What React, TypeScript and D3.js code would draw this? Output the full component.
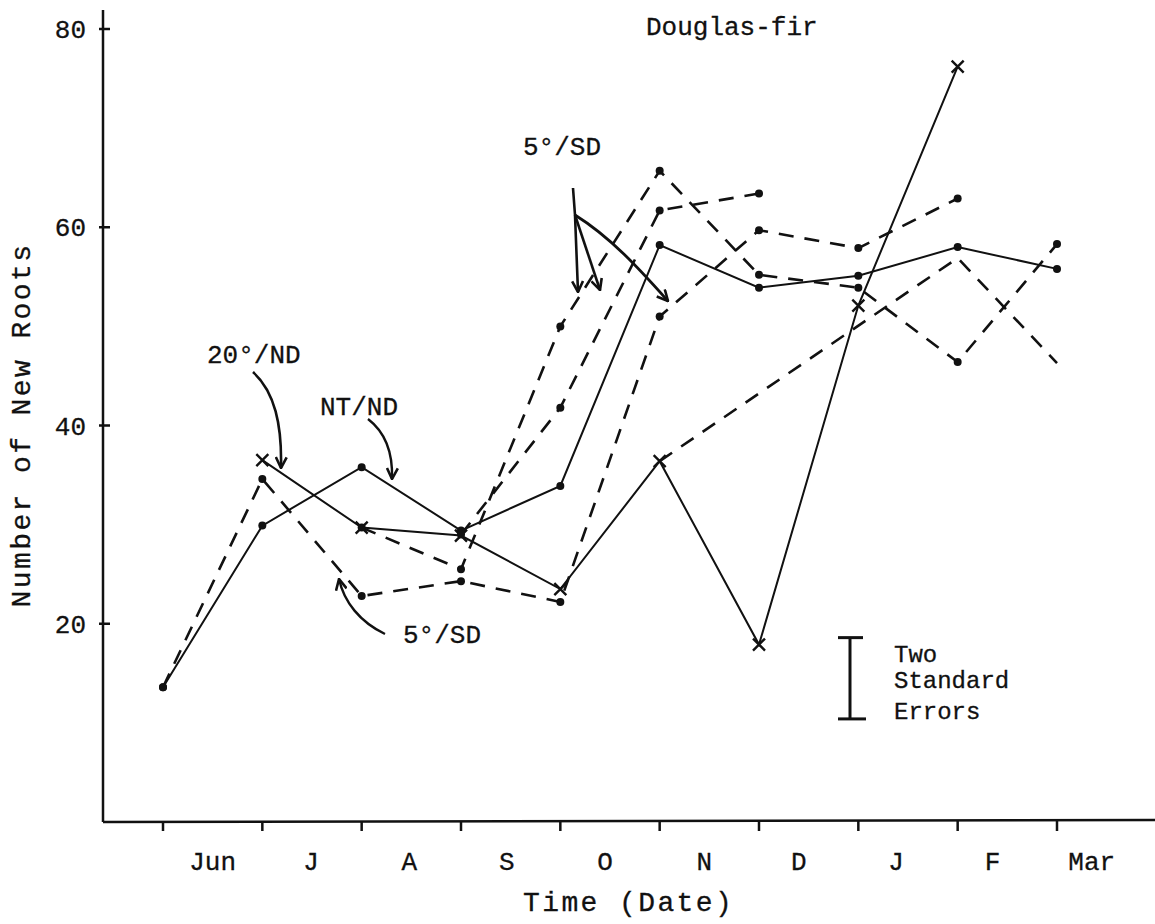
import React from "react";
import * as d3 from "d3";

const months = ["Jun", "J", "A", "S", "O", "N", "D", "J", "F", "Mar"];
// position of each month label along the sampling-date axis (index units)
const monthPos = [0.5, 1.49, 2.48, 3.46, 4.45, 5.45, 6.4, 7.38, 8.35, 9.35];
const yTicks = [20, 40, 60, 80];

// sampling dates are at month boundaries (index 0..9)
const ntND = [13.6, 29.9, 35.8, 29.4, 33.9, 58.2, 53.9, 55.1, 58.0, 55.8];
const t20ND = [null, 36.5, 29.7, 28.9, 23.5, 36.4, 17.9, 52.1, 76.2, null];
const sdA = [13.6, 34.6, 22.8, 24.3, 22.2, 51.0, 59.7, 57.9, 62.9, null];
const sdB = [null, null, 29.7, 25.5, 50.0, 65.7, 55.2, 53.9, 46.4, 58.3];
const sdC = [null, null, null, 29.0, 41.8, 61.7, 63.4, null, null, null];
const sdX = [null, null, null, null, null, 36.4, null, null, 56.9, 46.3];

const errTop = 18.6;
const errBottom = 10.4;

const FONT = "'Liberation Mono', 'Courier New', monospace";

type S = { values: (number | null)[]; dashed: boolean; marker: "dot" | "x" | "none" };
const series: S[] = [
  { values: ntND, dashed: false, marker: "dot" },
  { values: t20ND, dashed: false, marker: "x" },
  { values: sdA, dashed: true, marker: "dot" },
  { values: sdB, dashed: true, marker: "dot" },
  { values: sdC, dashed: true, marker: "dot" },
  { values: sdX, dashed: true, marker: "none" },
];

export default function App() {
  const W = 1155, H = 924;
  const x = d3.scaleLinear().domain([0, 9]).range([163, 1057]);
  const y = d3.scaleLinear().domain([0, 80]).range([822, 29]);
  const line = d3
    .line<[number, number]>()
    .x((d) => x(d[0]))
    .y((d) => y(d[1]));

  const txt = { fontFamily: FONT, fontSize: 26, fill: "#111", stroke: "#111", strokeWidth: 0.3 } as const;
  const title = { ...txt, fontSize: 28, letterSpacing: 2.4 } as const;

  return (
    <svg width={W} height={H} style={{ position: "absolute", left: 0, top: 0, background: "#fff" }}>
      <defs>
        <marker id="ah" viewBox="0 0 12 12" refX="11" refY="6" markerWidth="13" markerHeight="13" markerUnits="userSpaceOnUse" orient="auto">
          <path d="M1,1 L11,6 L1,11" fill="none" stroke="#111" strokeWidth="2.4" />
        </marker>
      </defs>
      <rect x={0} y={0} width={W} height={H} fill="#fff" />

      {/* axes */}
      <line x1={103} y1={10} x2={103} y2={822} stroke="#111" strokeWidth={2.5} />
      <line x1={103} y1={822} x2={1155} y2={820} stroke="#111" strokeWidth={2.5} />
      {yTicks.map((t) => (
        <g key={"yt" + t}>
          <line x1={99} x2={110} y1={y(t)} y2={y(t)} stroke="#111" strokeWidth={2.5} />
          <text x={86} y={y(t) + 9} textAnchor="end" {...txt}>
            {t}
          </text>
        </g>
      ))}
      {months.map((m, i) => (
        <g key={"xt" + i}>
          <line x1={x(i)} x2={x(i)} y1={821} y2={831} stroke="#111" strokeWidth={2.5} />
          <text x={x(monthPos[i])} y={870} textAnchor="middle" {...txt}>
            {m}
          </text>
        </g>
      ))}

      <text x={523} y={911} {...title}>Time (Date)</text>
      <text transform={`translate(30,425) rotate(-90)`} textAnchor="middle" {...title}>
        Number of New Roots
      </text>
      <text x={646} y={35} {...txt}>Douglas-fir</text>

      {/* series */}
      {series.map((s, si) => {
        const pts = s.values
          .map((v, i) => (v == null ? null : ([i, v] as [number, number])))
          .filter((p): p is [number, number] => p != null);
        return (
          <g key={"s" + si}>
            <path
              d={line(pts) || ""}
              fill="none"
              stroke="#111"
              strokeWidth={s.dashed ? 2.6 : 2}
              strokeDasharray={s.dashed ? "15 11" : undefined}
            />
            {pts.map((p, k) =>
              s.marker === "dot" ? (
                <circle key={k} cx={x(p[0])} cy={y(p[1])} r={4} fill="#111" />
              ) : s.marker === "x" ? (
                <path
                  key={k}
                  d={`M${x(p[0]) - 6},${y(p[1]) - 6}L${x(p[0]) + 6},${y(p[1]) + 6}M${x(p[0]) - 6},${y(p[1]) + 6}L${x(p[0]) + 6},${y(p[1]) - 6}`}
                  stroke="#111"
                  strokeWidth={2.4}
                />
              ) : null
            )}
          </g>
        );
      })}

      {/* annotations */}
      <text x={207} y={363} {...txt}>20°/ND</text>
      <path d="M253,372 C275,392 282,425 281,468" fill="none" stroke="#111" strokeWidth={2.6} markerEnd="url(#ah)" />
      <text x={320} y={415} {...txt}>NT/ND</text>
      <path d="M368,419 C385,432 393,452 392,479" fill="none" stroke="#111" strokeWidth={2.4} markerEnd="url(#ah)" />
      <text x={403} y={643} {...txt}>5°/SD</text>
      <path d="M385,634 C360,622 344,602 339,579" fill="none" stroke="#111" strokeWidth={2.4} markerEnd="url(#ah)" />
      <text x={523} y={155} {...txt}>5°/SD</text>
      <path d="M573,188 L575,215 L578,292" fill="none" stroke="#111" strokeWidth={2.6} markerEnd="url(#ah)" />
      <path d="M575,215 L600,290" fill="none" stroke="#111" strokeWidth={2.6} markerEnd="url(#ah)" />
      <path d="M575,215 C612,238 642,272 668,301" fill="none" stroke="#111" strokeWidth={2.8} markerEnd="url(#ah)" />

      {/* error bar */}
      <line x1={850} x2={850} y1={y(errTop)} y2={y(errBottom)} stroke="#111" strokeWidth={3} />
      <line x1={838} x2={863} y1={y(errTop)} y2={y(errTop)} stroke="#111" strokeWidth={3} />
      <line x1={838} x2={866} y1={y(errBottom)} y2={y(errBottom)} stroke="#111" strokeWidth={3} />
      <text x={894} y={662} {...txt} fontSize={24}>Two</text>
      <text x={894} y={688} {...txt} fontSize={24}>Standard</text>
      <text x={894} y={719} {...txt} fontSize={24}>Errors</text>
    </svg>
  );
}
